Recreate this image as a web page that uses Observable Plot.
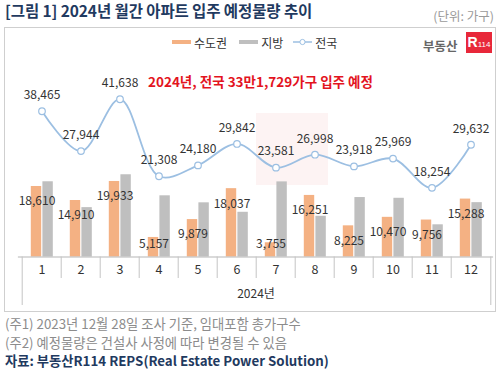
<!DOCTYPE html>
<html><head><meta charset="utf-8">
<script src="https://cdn.jsdelivr.net/npm/d3@7"></script>
<script src="https://cdn.jsdelivr.net/npm/@observablehq/plot@0.6"></script>
<style>
html,body{margin:0;padding:0;background:#fff;}
#root{position:relative;width:500px;height:372px;overflow:hidden;font-family:"Noto Sans CJK KR","Noto Sans",sans-serif;background:#fff;}
.abs{position:absolute;white-space:nowrap;}
</style></head>
<body><div id="root">
<div class="abs" style="left:5px;top:2px;line-height:17px;font-size:15.5px;font-weight:700;color:#1f3a60;letter-spacing:-0.1px">[그림 1] 2024년 월간 아파트 입주 예정물량 추이</div>
<div class="abs" style="right:6px;top:7px;line-height:18px;font-size:12.5px;color:#9a9a9a">(단위: 가구)</div>
<div class="abs" style="left:4px;top:27px;width:492px;height:285px;border:1px solid #cfcfcf;box-sizing:border-box"></div>
<div class="abs" style="left:256px;top:113px;width:72px;height:72px;background:#fdf3f3"></div>
<div class="abs" id="legend" style="left:172px;top:34px;height:16px;display:flex;align-items:center;font-size:12px;color:#333"></div>
<div class="abs" style="left:423px;top:37px;line-height:18px;font-size:12.5px;font-weight:700;color:#666">부동산</div>
<div class="abs" style="left:466px;top:32px;width:26px;height:21px;background:#e8283a;color:#fff;font-weight:700;line-height:21px;text-align:center;font-size:14px;font-family:Arial,'Liberation Sans',sans-serif">R<span style="font-size:8px;font-weight:400">114</span></div>
<div class="abs" id="subtitle" style="left:148px;top:71px;line-height:20px;font-size:13.5px;font-weight:700;color:#e3141e"></div>
<div class="abs" id="chart" style="left:0;top:56px"></div>
<div class="abs" style="left:5px;top:315px;font-size:13.3px;line-height:18.5px;color:#8c8c8c">(주1) 2023년 12월 28일 조사 기준, 임대포함 총가구수<br>(주2) 예정물량은 건설사 사정에 따라 변경될 수 있음</div>
<div class="abs" style="left:5px;top:352px;font-size:13.3px;line-height:18px;font-weight:700;color:#1f3a60">자료: 부동산R114 REPS(Real Estate Power Solution)</div>
</div>
<script>
const months = ["1","2","3","4","5","6","7","8","9","10","11","12"];
const metro = [18610,14910,19933,5157,9879,18037,3755,16251,8225,10470,9756,15288];
const regional = [19855,13034,21705,16151,14301,11805,19826,10747,15693,15499,8498,14344];
const national = [38465,27944,41638,21308,24180,29842,23581,26998,23918,25969,18254,29632];
const seriesNames = ["수도권","지방","전국"];
const xLabel = "2024년";
const subtitle = "2024년, 전국 33만1,729가구 입주 예정";

const colMetro = "#f4b183", colRegional = "#bfbfbf", colLine = "#9cbfe2";
const data = months.map((m,i)=>({month:m, metro:metro[i], regional:regional[i], total:national[i]}));
const fmt = d3.format(",");

document.getElementById("subtitle").textContent = subtitle;
const leg = document.getElementById("legend");
leg.innerHTML =
 `<span style="display:inline-block;width:19px;height:4px;background:${colMetro};margin-right:3px"></span><span>${seriesNames[0]}</span>`+
 `<span style="display:inline-block;width:19px;height:4px;background:${colRegional};margin:0 3px 0 12px"></span><span>${seriesNames[1]}</span>`+
 `<svg width="19" height="10" style="margin:0 3px 0 10px"><line x1="0" x2="19" y1="5" y2="5" stroke="${colLine}" stroke-width="1.5"/><circle cx="9.5" cy="5" r="2.6" fill="#fff" stroke="${colLine}" stroke-width="1"/></svg><span>${seriesNames[2]}</span>`;

const W = 500, H = 256, mL = 17.9, mR = 6.9, mT = 30, mB = 55.5;
const bw = (W - mL - mR) / months.length;
const frameH = H - mT - mB;
const pxPerUnit = frameH / 45000;

const chart = Plot.plot({
  width: W, height: H,
  marginLeft: mL, marginRight: mR, marginTop: mT, marginBottom: mB,
  style: {background: "transparent", fontFamily: "'Noto Sans CJK KR', sans-serif", fontSize: "12.5px", color: "#333", overflow: "visible"},
  x: {type: "band", domain: months, padding: 0, tickSize: 0, tickPadding: 8, label: null},
  y: {domain: [0, 45000], axis: null},
  marks: [
    Plot.barY(data, {x: "month", y: "metro", fill: colMetro, insetLeft: bw/2 - 11, insetRight: bw/2}),
    Plot.barY(data, {x: "month", y: "regional", fill: colRegional, insetLeft: bw/2 + 0.6, insetRight: bw/2 - 11.6}),
    Plot.ruleY([0], {stroke: "#b5b5b5"}),
    Plot.ruleX(months.slice(1), {x: d => d, dx: -bw/2, stroke: "#c4c4c4", insetTop: frameH, insetBottom: -21.5}),
    Plot.ruleX([months[0]], {x: d => d, dx: -bw/2, stroke: "#c4c4c4", insetTop: frameH, insetBottom: -48.5}),
    Plot.ruleX([months[months.length-1]], {x: d => d, dx: bw/2, stroke: "#c4c4c4", insetTop: frameH, insetBottom: -48.5}),
    Plot.text(data, {x: "month", y: d => Math.max(d.metro - 15/pxPerUnit, 13/pxPerUnit), text: d => fmt(d.metro), dx: -5, fontSize: 12, fill: "#333"}),
    Plot.line(data, {x: "month", y: "total", curve: "catmull-rom", stroke: colLine, strokeWidth: 1.8}),
    Plot.dot(data, {x: "month", y: "total", r: 3.3, fill: "white", stroke: colLine, strokeWidth: 1.2}),
    Plot.text(data, {x: "month", y: "total", text: d => fmt(d.total), dy: -16, fontSize: 12, fill: "#333"}),
    Plot.text([xLabel], {frameAnchor: "bottom", dy: 40.5, fontSize: 12, fill: "#333"})
  ]
});
document.getElementById("chart").appendChild(chart);
</script>
</body></html>
